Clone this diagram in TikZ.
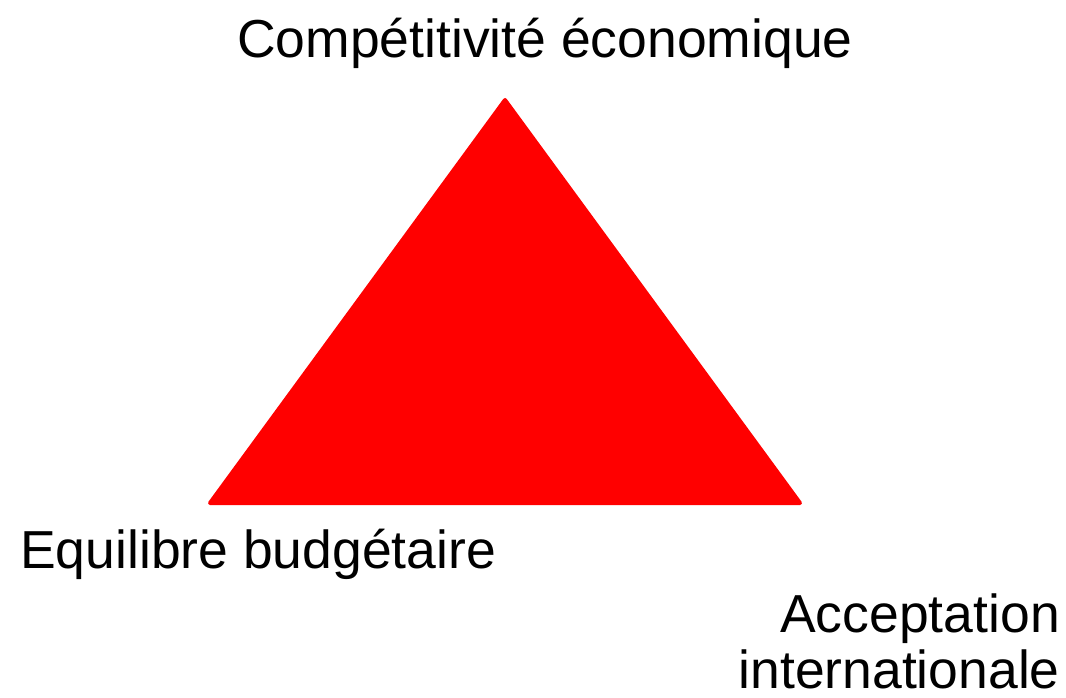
\documentclass[tikz,border=0pt]{standalone}
\usepackage{fontspec}
\setmainfont{Liberation Sans}
\begin{document}
\begin{tikzpicture}[x=1pt,y=-1pt,
  label/.style={inner sep=0pt,font=\fontsize{53.5}{56}\selectfont}]
\useasboundingbox (0,0) rectangle (1066,698);
% triangle corners
\coordinate (top) at (505,100);
\coordinate (bl) at (210,503);
\coordinate (br) at (800,503);
\filldraw[fill=red,draw=red,line width=4pt,line join=round] (top) -- (br) -- (bl) -- cycle;
% labels
\node[label,anchor=base] (comp) at (545,58) {Compétitivité économique};
\node[label,anchor=base west] (equi) at (20,568) {Equilibre budgétaire};
\node[label,anchor=base east,align=right] (acc) at (1060,688) {Acceptation\\internationale};
\end{tikzpicture}
\end{document}
